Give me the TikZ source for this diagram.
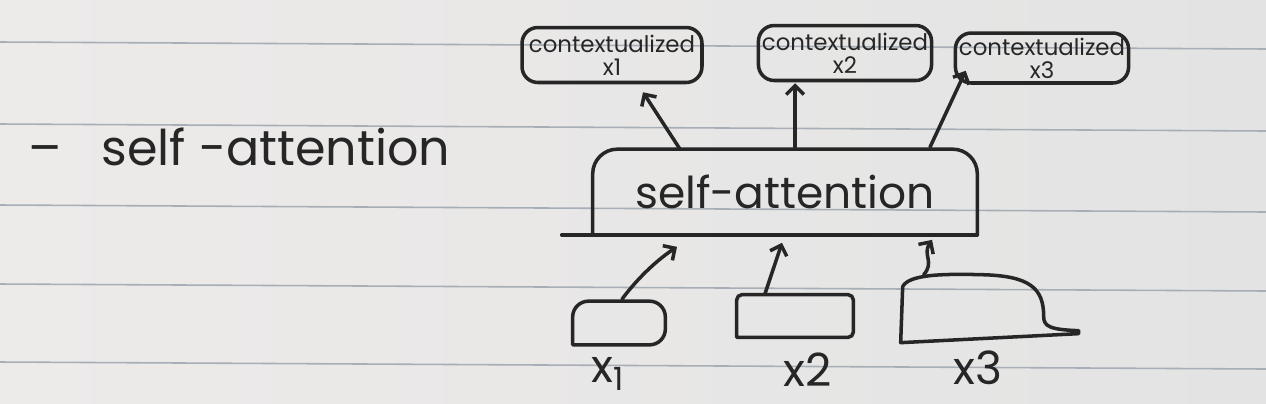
\documentclass[tikz,border=0pt]{standalone}
\usepackage{fontspec}
\setmainfont{Poppins}
\usetikzlibrary{calc,arrows.meta}
\definecolor{paperleft}{HTML}{EDEBEA}
\definecolor{paperright}{HTML}{E3E3E3}
\definecolor{inkcol}{HTML}{262626}
\definecolor{linecol}{HTML}{A7AEB6}

\begin{document}
\begin{tikzpicture}[x=0.02cm,y=-0.02cm,
	pen/.style={inkcol,line width=2pt,line cap=round,line join=round},
	arr/.style={pen,-{Straight Barb[length=5pt,width=10pt]}},
	outbox/.style={pen,draw,rounded corners=9pt,align=center,inner sep=2pt,font=\fontsize{13}{13}\selectfont},
	inbox/.style={inner sep=0pt}]
		%paper
		\useasboundingbox (0,0) rectangle (1266,403);
		\shade[left color=paperleft,right color=paperright] (0,0) rectangle (1266,403);
		\foreach \y in {42,124,205,284,362}
			\draw[linecol,line width=0.9pt] (0,\y) -- (1266,\y+7);

		%heading
		\node[inkcol,anchor=west,font=\fontsize{28}{30}\selectfont] (title) at (22,147) {--\hspace{0.8cm}self -attention};

		%self-attention block
		\node[inkcol,minimum width=7.68cm,minimum height=1.7cm,font=\fontsize{25}{27}\selectfont] (sa) at (785,192) {self-attention};
		\draw[pen,rounded corners=14pt] (sa.south west) -- (sa.north west) -- (sa.north east) -- (sa.south east);
		\draw[pen] ($(sa.south west)+(-31,0)$) -- (sa.south east);

		%outputs
		\node[outbox,minimum width=3.6cm,minimum height=1.1cm] (c1) at (612,55) {contextualized\\x1};
		\node[outbox,minimum width=3.1cm,minimum height=1.1cm] (c2) at (845,53) {contextualized\\x2};
		\node[outbox,minimum width=2.56cm,minimum height=1.0cm] (c3) at (1042,58) {contextualized\\x3};

		%inputs
		\node[inbox,minimum width=1.84cm,minimum height=0.86cm] (in1) at (619,323) {};
		\node[inbox,minimum width=2.32cm,minimum height=0.84cm] (in2) at (795,316) {};
		\node[inbox,minimum width=3.56cm,minimum height=1.36cm] (in3) at (990,309) {};
		\foreach \n/\r in {in1/9pt,in2/3pt}
			\draw[pen,rounded corners=\r] (\n.south west) -- (\n.north west) -- (\n.north east) -- (\n.south east) -- (\n.south west);
		\begin{scope}[shift={(in3.north west)}]
			\draw[pen] (0,68) -- (2,12) .. controls (8,0) and (40,-1) .. (80,0)
				.. controls (130,1) and (143,14) .. (143,42) .. controls (143,52) and (150,55) .. (178,56)
				-- (178,59) -- cycle;
		\end{scope}

		\node[inkcol,font=\fontsize{26}{28}\selectfont] (x1) at (608,374) {x\textsubscript{1}};
		\node[inkcol,font=\fontsize{26}{28}\selectfont] (x2) at (808,370) {x2};
		\node[inkcol,font=\fontsize{26}{28}\selectfont] (x3) at (978,368) {x3};

		%arrows in
		\draw[arr] ($(in1.north)+(3,-2)$) .. controls (640,275) and (660,258) .. ($(sa.south)+(-108,12)$);
		\draw[arr] ($(in2.north)+(-30,-1)$) -- ($(sa.south)+(-3,8)$);
		\draw[arr] ($(in3.north west)+(23,0)$) .. controls (935,262) and (922,255) .. ($(sa.south)+(147,5)$);

		%arrows out
		\draw[arr] ($(sa.north)+(-105,0)$) -- ($(c1.south)+(31,8)$);
		\draw[arr] ($(sa.north)+(10,-2)$) -- ($(c2.south)+(-50,1)$);
		\draw[arr] ($(sa.north)+(145,-2)$) -- ($(c3.south west)+(12,-14)$);
\end{tikzpicture}
\end{document}
